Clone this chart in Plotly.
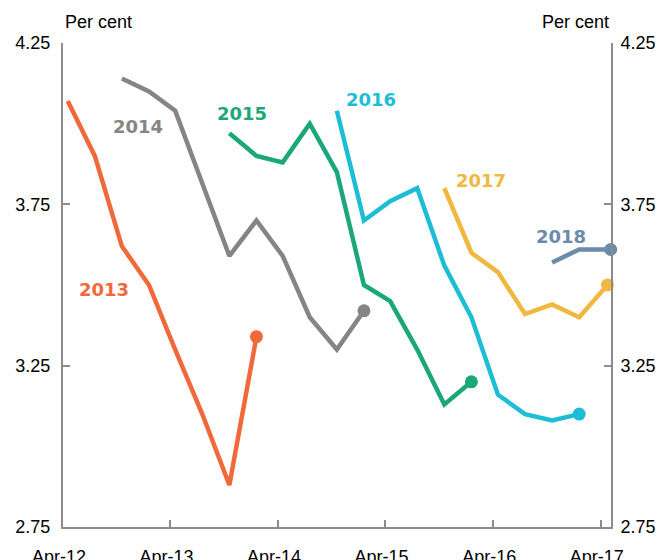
import plotly.graph_objects as go

# forecast dates (quarterly) and values for each year
dates_2013 = ['2012-05-01', '2012-08-01', '2012-11-01', '2013-02-01', '2013-05-01',
              '2013-08-01', '2013-11-01', '2014-02-01']
vals_2013 = [4.07, 3.90, 3.62, 3.50, 3.30, 3.10, 2.88, 3.34]

dates_2014 = ['2012-11-01', '2013-02-01', '2013-05-01', '2013-08-01', '2013-11-01',
              '2014-02-01', '2014-05-01', '2014-08-01', '2014-11-01', '2015-02-01']
vals_2014 = [4.14, 4.10, 4.04, 3.81, 3.59, 3.70, 3.59, 3.40, 3.30, 3.42]

dates_2015 = ['2013-11-01', '2014-02-01', '2014-05-01', '2014-08-01', '2014-11-01',
              '2015-02-01', '2015-05-01', '2015-08-01', '2015-11-01', '2016-02-01']
vals_2015 = [3.97, 3.90, 3.88, 4.00, 3.85, 3.50, 3.45, 3.30, 3.13, 3.20]

dates_2016 = ['2014-11-01', '2015-02-01', '2015-05-01', '2015-08-01', '2015-11-01',
              '2016-02-01', '2016-05-01', '2016-08-01', '2016-11-01', '2017-02-01']
vals_2016 = [4.04, 3.70, 3.76, 3.80, 3.56, 3.40, 3.16, 3.10, 3.08, 3.10]

dates_2017 = ['2015-11-01', '2016-02-01', '2016-05-01', '2016-08-01', '2016-11-01',
              '2017-02-01', '2017-05-08']
vals_2017 = [3.80, 3.60, 3.54, 3.41, 3.44, 3.40, 3.50]

dates_2018 = ['2016-11-01', '2017-02-01', '2017-05-19']
vals_2018 = [3.57, 3.61, 3.61]

series = [
    ('2013', dates_2013, vals_2013, '#F0693B', '2012-09-02', 3.487),
    ('2014', dates_2014, vals_2014, '#858585', '2012-12-27', 3.99),
    ('2015', dates_2015, vals_2015, '#1BA77A', '2013-12-15', 4.031),
    ('2016', dates_2016, vals_2016, '#1DBDD6', '2015-02-26', 4.076),
    ('2017', dates_2017, vals_2017, '#F0B840', '2016-03-06', 3.825),
    ('2018', dates_2018, vals_2018, '#6A8BA9', '2016-12-02', 3.65),
]

tick_dates = ['2012-04-15', '2013-04-15', '2014-04-15', '2015-04-15', '2016-04-15', '2017-04-15']
tick_text = ['Apr-12', 'Apr-13', 'Apr-14', 'Apr-15', 'Apr-16', 'Apr-17']
y_ticks = [2.75, 3.25, 3.75, 4.25]

fig = go.Figure()

for name, d, v, col, lx, ly in series:
    ax = 'y2' if name == '2018' else 'y'
    fig.add_trace(go.Scatter(
        x=d, y=v, mode='lines', name=name,
        line=dict(color=col, width=4.5), yaxis=ax,
    ))
    # dot on the latest value
    fig.add_trace(go.Scatter(
        x=d[-1:], y=v[-1:], mode='markers', name=name,
        marker=dict(color=col, size=13, opacity=1, line=dict(width=0)),
        yaxis=ax, cliponaxis=False,
    ))
    fig.add_annotation(x=lx, y=ly, text=name, showarrow=False,
                       xanchor='center', yanchor='middle',
                       font=dict(family='DejaVu Sans', size=18, color=col, weight='bold'))

axis_font = dict(family='Liberation Sans, Arial', size=18, color='black')
line_col = '#8C8C8C'

common_y = dict(
    range=[2.75, 4.25], tickvals=y_ticks, tickformat='.2f',
    ticks='inside', ticklen=7, tickwidth=1.5, tickcolor=line_col,
    showline=True, linecolor=line_col, linewidth=2,
    showgrid=False, zeroline=False, tickfont=axis_font, automargin=False,
)

fig.update_layout(
    width=659, height=560,
    margin=dict(l=63, r=48, t=43, b=33),
    plot_bgcolor='white', paper_bgcolor='white',
    showlegend=False,
    xaxis=dict(
        type='date', range=['2012-04-15', '2017-05-20'],
        tickvals=tick_dates, ticktext=tick_text,
        ticks='inside', ticklen=7, tickwidth=1.5, tickcolor=line_col,
        showline=True, linecolor=line_col, linewidth=2,
        showgrid=False, zeroline=False, tickfont=axis_font,
        ticklabelshift=-4, ticklabelstandoff=12, automargin=False,
    ),
    yaxis=dict(common_y, ticklabelstandoff=7),
    yaxis2=dict(common_y, overlaying='y', side='right', ticklabelstandoff=4),
)

fig.add_annotation(xref='paper', yref='paper', x=0, y=1.043, text='Per cent',
                   showarrow=False, xanchor='left', yanchor='middle', font=axis_font)
fig.add_annotation(xref='paper', yref='paper', x=1, y=1.043, text='Per cent',
                   showarrow=False, xanchor='right', yanchor='middle', font=axis_font)

fig.write_html("out.html", config={'displayModeBar': False},
               post_script="document.body.style.margin='0';document.body.style.padding='0';")
